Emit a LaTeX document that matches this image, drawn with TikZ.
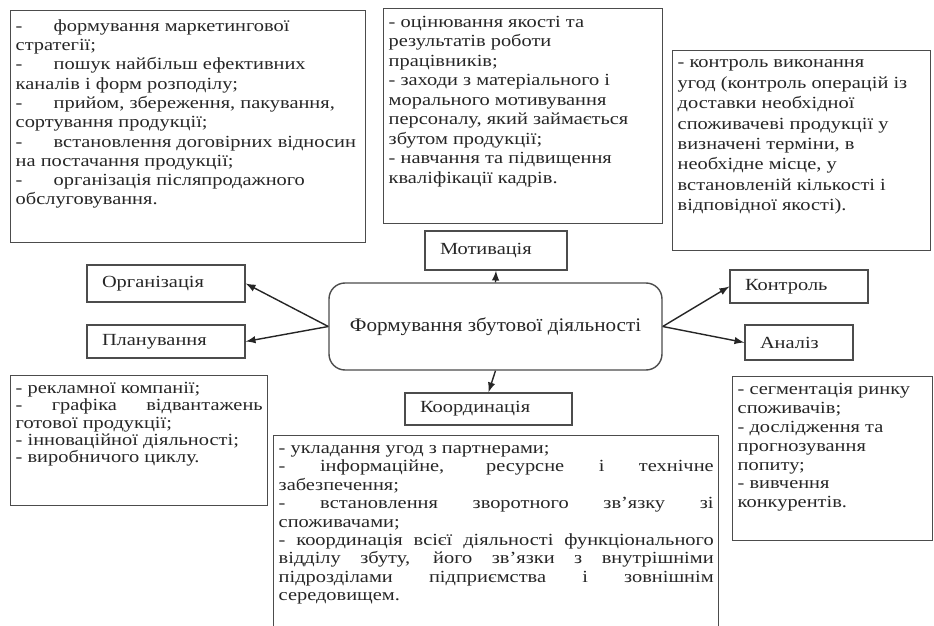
\documentclass[tikz,border=0pt]{standalone}
\usepackage{fontspec}
\setmainfont{Liberation Serif}
\newfontfamily\widefont[FakeStretch=1.2]{Liberation Serif}
\newfontfamily\corefont[FakeStretch=1.1]{Liberation Serif}
\usepackage{tikz}
\hyphenpenalty=10000
\newcommand{\listdash}{\makebox[19pt][l]{-}}

\begin{document}
\begin{tikzpicture}[x=0.5pt,y=-0.5pt,line width=0.7pt,
  listbox/.style={draw=black!70,text=black!85,anchor=north west,inner xsep=2.5pt,
    font=\widefont\fontsize{8.5}{9.65}\selectfont},
  namebox/.style={draw=black!70,text=black!85,inner xsep=7.5pt,inner ysep=0pt,align=left,
    font=\widefont\fontsize{8.5}{9.8}\selectfont},
  arr/.style={-latex,black!85}]
\useasboundingbox (0,0) rectangle (934,626);
\clip (0,0) rectangle (934,626);
% centre
\node[draw=black!70,text=black!85,rounded corners=8pt,minimum width=166.5pt,minimum height=43.5pt,
  font=\corefont\fontsize{9.6}{12}\selectfont] (core) at (495.5,326.5) {Формування збутової діяльності};
% functions
\node[namebox,text width=56pt,minimum height=19.5pt] (motiv) at (496,250.5) {Мотивація};
\node[namebox,text width=64pt,minimum height=18.5pt] (org) at (166,283.5) {Організація};
\node[namebox,text width=64pt,minimum height=16.5pt] (plan) at (166,341.5) {Планування};
\node[namebox,text width=68.5pt,minimum height=16pt] (coord) at (488.5,409) {Координація};
\node[namebox,text width=54pt,minimum height=16.5pt] (ctrl) at (799,286.5) {Контроль};
\node[namebox,text width=39pt,minimum height=17.5pt] (analiz) at (799,342.5) {Аналіз};
\draw[arr] (core.west) -- (org.east);
\draw[arr] (core.west) -- (plan.east);
\draw[arr] (core.north) -- (motiv.south);
\draw[arr] (core.south) -- (coord.north);
\draw[arr] (core.east) -- (ctrl.west);
\draw[arr] (core.east) -- (analiz.west);
% lists
\node[listbox,inner ysep=3.5pt] (orglist) at (10,10) {\parbox[c][109pt][t]{172.5pt}{\raggedright
\strut\listdash формування маркетингової\\ стратегії;\\
\listdash пошук найбільш ефективних\\ каналів і форм розподілу;\\
\listdash прийом, збереження, пакування,\\ сортування продукції;\\
\listdash встановлення договірних відносин\\ на постачання продукції;\\
\listdash організація післяпродажного\\ обслуговування.}};
\node[listbox,inner ysep=2.5pt] (motivlist) at (383,8) {\parbox[c][102.5pt][t]{134.5pt}{\raggedright
\fontsize{8.5}{9.75}\selectfont
\strut- оцінювання якості та\\ результатів роботи\\ працівників;\\
- заходи з матеріального і\\ морального мотивування\\ персоналу, який займається\\ збутом продукції;\\
- навчання та підвищення\\ кваліфікації кадрів.}};
\node[listbox,inner ysep=1.5pt] (ctrllist) at (672,50) {\parbox[c][97pt][t]{124pt}{\raggedright
\fontsize{8.5}{10.2}\selectfont
\strut- контроль виконання\\ угод (контроль операцій із\\ доставки необхідної\\ споживачеві продукції у\\
визначені терміни, в\\ необхідне місце, у\\ встановленій кількості і\\ відповідної якості).}};
\node[listbox,inner ysep=3pt] (planlist) at (10,375) {\parbox[c][59pt][t]{123.5pt}{
\fontsize{8.5}{8.6}\selectfont
\strut- рекламної компанії;\\
\makebox[\linewidth][s]{- графіка відвантажень}\\ готової продукції;\\
- інноваційної діяльності;\\
- виробничого циклу.}};
\node[listbox,inner ysep=2.5pt] (coordlist) at (273,435) {\parbox[c][100pt][t]{217.5pt}{
\fontsize{8.5}{9.2}\selectfont
\strut- укладання угод з партнерами;\\
\makebox[\linewidth][s]{- інформаційне, ресурсне і технічне}\\ забезпечення;\\
\makebox[\linewidth][s]{- встановлення зворотного зв’язку зі}\\ споживачами;\\
\makebox[\linewidth][s]{- координація всієї діяльності функціонального}\\
\makebox[\linewidth][s]{відділу збуту, його зв’язки з внутрішніми}\\
\makebox[\linewidth][s]{підрозділами підприємства і зовнішнім}\\ середовищем.}};
\node[listbox,inner ysep=2.5pt] (analizlist) at (732,376) {\parbox[c][77pt][t]{95pt}{\raggedright
\fontsize{8.5}{9.4}\selectfont
\strut- сегментація ринку\\ споживачів;\\
- дослідження та\\ прогнозування\\ попиту;\\
- вивчення\\ конкурентів.}};
\end{tikzpicture}
\end{document}
